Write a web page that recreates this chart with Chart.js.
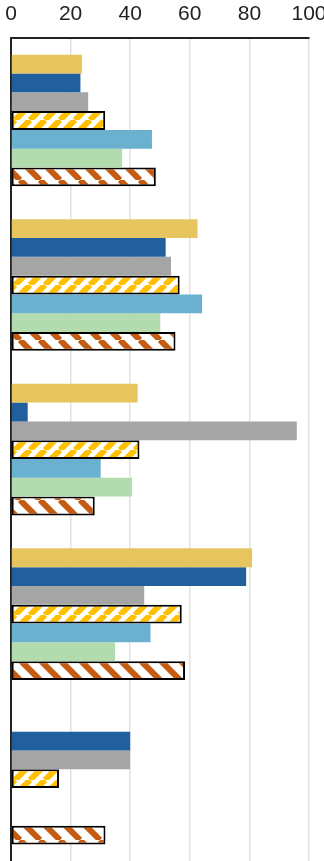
<!DOCTYPE html>
<html>
<head>
<meta charset="utf-8">
<script src="https://cdn.jsdelivr.net/npm/chart.js@4"></script>
<style>
  html, body { margin: 0; padding: 0; background: #fff; }
  #wrap { width: 324px; height: 861px; position: relative; }
</style>
</head>
<body>
<div id="wrap"><canvas id="chart"></canvas></div>
<script>
// groups (no labels shown on the chart)
const categories = ['Group 1', 'Group 2', 'Group 3', 'Group 4', 'Group 5'];
const xTicks = [0, 20, 40, 60, 80, 100];

// series values, top bar to bottom bar in each group
const series1 = [23.8, 62.6, 42.5, 80.9, null];
const series2 = [23.3, 51.9, 5.6, 78.9, 40];
const series3 = [25.9, 53.7, 95.9, 44.7, 40];
const series4 = [31.6, 56.6, 43.1, 57.3, 16.1];
const series5 = [47.3, 64.1, 30.1, 46.8, null];
const series6 = [37.3, 50.1, 40.6, 34.9, null];
const series7 = [48.6, 55.2, 28.1, 58.4, 31.7];

//diagonal stripes on white
function makeHatch(color, size, lineW, forward) {
    const c = document.createElement('canvas');
    c.width = size;
    c.height = size;
    const ctx = c.getContext('2d');
    ctx.fillStyle = '#fff';
    ctx.fillRect(0, 0, size, size);
    ctx.strokeStyle = color;
    ctx.lineWidth = lineW;
    ctx.beginPath();
    for (let k = -1; k <= 1; k++) {
        if (forward) {
            ctx.moveTo(k * size, size);
            ctx.lineTo(k * size + size, 0);
        } else {
            ctx.moveTo(k * size, 0);
            ctx.lineTo(k * size + size, size);
        }
    }
    ctx.stroke();
    return ctx.createPattern(c, 'repeat');
}

const yellowHatch = makeHatch('#ffc000', 15, 6, true);
const brownHatch = makeHatch('#c55a11', 20, 6, false);

function solid(label, data, color) {
    return { label, data, backgroundColor: color, borderWidth: 0 };
}
function hatched(label, data, pattern) {
    return {
        label, data,
        backgroundColor: pattern,
        borderColor: '#000',
        borderWidth: 2,
        borderSkipped: false
    };
}

new Chart(document.getElementById('chart').getContext('2d'), {
    type: 'bar',
    data: {
        labels: categories,
        datasets: [
            solid('Series 1', series1, '#e6c55f'),
            solid('Series 2', series2, '#225f9e'),
            solid('Series 3', series3, '#a5a5a5'),
            hatched('Series 4', series4, yellowHatch),
            solid('Series 5', series5, '#6ab1d0'),
            solid('Series 6', series6, '#b3dcae'),
            hatched('Series 7', series7, brownHatch)
        ]
    },
    options: {
        indexAxis: 'y',
        responsive: true,
        maintainAspectRatio: false,
        animation: false,
        layout: { padding: { left: 11, right: 15, top: -9, bottom: 0 } },
        datasets: { bar: { categoryPercentage: 0.8, barPercentage: 1.0 } },
        plugins: { legend: { display: false }, tooltip: { enabled: false } },
        scales: {
            x: {
                position: 'top',
                min: 0,
                max: 100,
                afterBuildTicks: (scale) => { scale.ticks = xTicks.map(v => ({ value: v })); },
                afterFit: (scale) => { scale.paddingLeft = 0; scale.paddingRight = 0; },
                ticks: {
                    padding: 11,
                    color: '#222',
                    font: { family: 'Liberation Sans, Arial, sans-serif', size: 21 }
                },
                grid: { color: '#e2e2e2', lineWidth: 1.5, drawTicks: false },
                border: { color: '#222', width: 2 }
            },
            y: {
                ticks: { display: false },
                grid: { display: false, drawTicks: false },
                border: { color: '#222', width: 2 }
            }
        }
    }
});
</script>
</body>
</html>
